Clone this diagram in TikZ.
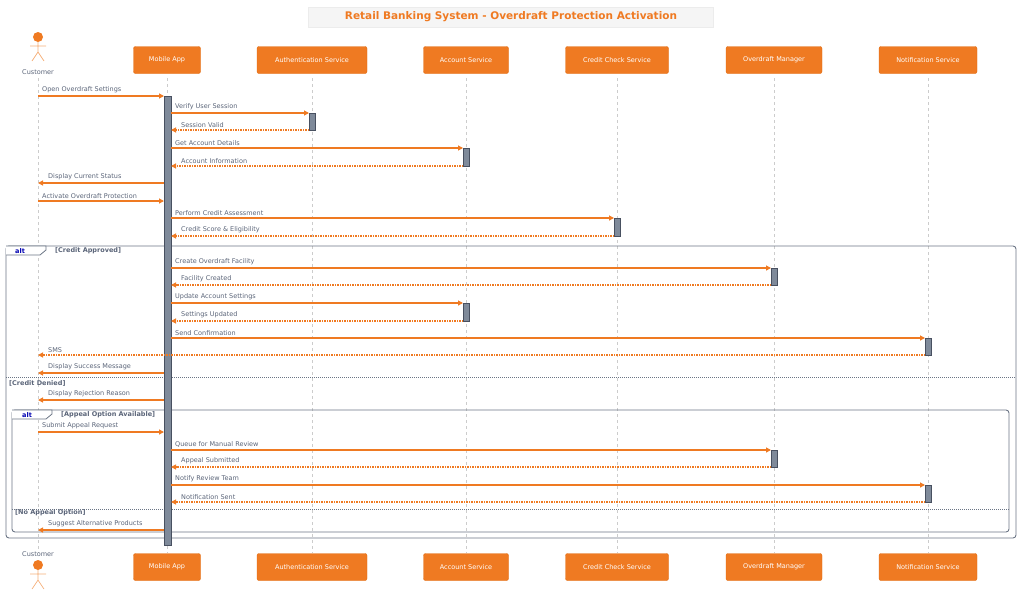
\documentclass[tikz,border=0pt]{standalone}
\usepackage{fontspec}
\setmainfont{DejaVu Sans}
\usetikzlibrary{arrows.meta}
\definecolor{org}{HTML}{EF7A22}
\definecolor{orgd}{HTML}{E06A10}
\definecolor{txt}{HTML}{5A6478}
\definecolor{bar}{HTML}{7F8A9A}
\definecolor{frm}{HTML}{6B7585}
\begin{document}
\begin{tikzpicture}[x=1pt,y=-1pt,
 part/.style={draw=orgd,fill=org,rounded corners=2pt,minimum height=27pt,text=white,font=\fontsize{6.5}{7}\selectfont,inner xsep=4pt},
 life/.style={draw=gray!40,dash pattern=on 3pt off 3pt,line width=0.5pt},
 act/.style={draw=txt!80!black,fill=bar,line width=0.5pt},
 msg/.style={draw=org,line width=1.1pt,-{Triangle[length=5pt,width=5pt]}},
 ret/.style={msg,dash pattern=on 1.5pt off 1pt},
 lbl/.style={text=txt,font=\fontsize{6.5}{7}\selectfont,anchor=south west,inner sep=1pt},
 frame/.style={draw=frm,line width=0.9pt,rounded corners=3pt},
 guard/.style={text=txt,font=\bfseries\fontsize{6.5}{7}\selectfont,anchor=west,inner sep=1pt},
 sep/.style={draw=frm,dash pattern=on 1pt off 1pt,line width=0.5pt},
 actor/.style={draw=org!60,line width=0.7pt}]
\useasboundingbox (0,0) rectangle (1024,600);
% title
\node[fill=gray!8,draw=gray!15,minimum width=405pt,minimum height=20pt,text=org,font=\bfseries\fontsize{10.5}{12}\selectfont] (title) at (511,17) {Retail Banking System - Overdraft Protection Activation};
% lifelines
\foreach \x in {38,167,312,466,617,774,928} \draw[life] (\x,78) -- (\x,553);
% participants
\foreach \n/\x/\w/\t in {m/167/67/Mobile App,a/312/110/Authentication Service,c/466/85/Account Service,k/617/103/Credit Check Service,o/774/96/Overdraft Manager,n/928/98/Notification Service}{
 \node[part,minimum width=\w pt] (\n top) at (\x,60) {\t};
 \node[part,minimum width=\w pt] (\n bot) at (\x,567) {\t};}
% actors
\fill[org] (38,37) circle (5pt);
\draw[actor] (38,42)--(38,52) (30,46)--(46,46) (38,52)--(32,61) (38,52)--(44,61);
\node[text=txt,font=\fontsize{6.5}{7}\selectfont] (cust) at (38,72) {Customer};
\node[text=txt,font=\fontsize{6.5}{7}\selectfont] (custb) at (38,554) {Customer};
\fill[org] (38,565) circle (5pt);
\draw[actor] (38,570)--(38,580) (30,574)--(46,574) (38,580)--(32,589) (38,580)--(44,589);
% frames
\draw[frame] (6,246) rectangle (1016,538);
\draw[frm,line width=0.8pt,fill=white] (6,246) -- (46,246) -- (46,250) -- (40,255) -- (6,255);
\node[text=blue!70!black,font=\bfseries\fontsize{6.5}{7}\selectfont] (alt1) at (20,251) {alt};
\node[guard] (g1) at (54,251) {[Credit Approved]};
\draw[sep] (6,377) -- (1016,377);
\node[guard] (g2) at (8,383) {[Credit Denied]};
\draw[frame] (12,410) rectangle (1009,532);
\draw[frm,line width=0.8pt,fill=white] (12,410) -- (52,410) -- (52,414) -- (46,419) -- (12,419);
\node[text=blue!70!black,font=\bfseries\fontsize{6.5}{7}\selectfont] (alt2) at (27,415) {alt};
\draw[sep] (12,509) -- (1009,509);
\node[guard] (g4) at (14,513) {[No Appeal Option]};
% activation bars
\draw[act] (164,96) rectangle (171,545);
\foreach \x/\a/\b in {312/113/130,466/148/166,617/218/236,774/268/285,466/303/321,928/338/355,774/450/467,928/485/502}
 \draw[act] (\x-3,\a) rectangle (\x+3,\b);
\node[guard] (g3) at (60,415) {[Appeal Option Available]};
% messages: style/from/to/y/label
\foreach \s/\f/\t/\y/\l in {
 msg/38/164/96/Open Overdraft Settings,
 msg/171/309/113/Verify User Session,
 ret/309/171/130/Session Valid,
 msg/171/463/148/Get Account Details,
 ret/463/171/166/Account Information,
 msg/164/38/183/Display Current Status,
 msg/38/164/201/Activate Overdraft Protection,
 msg/171/614/218/Perform Credit Assessment,
 ret/614/171/236/Credit Score \& Eligibility,
 msg/171/771/268/Create Overdraft Facility,
 ret/771/171/285/Facility Created,
 msg/171/463/303/Update Account Settings,
 ret/463/171/321/Settings Updated,
 msg/171/925/338/Send Confirmation,
 ret/925/38/355/SMS/Email Notification,
 msg/164/38/373/Display Success Message,
 msg/164/38/400/Display Rejection Reason,
 msg/38/164/432/Submit Appeal Request,
 msg/171/771/450/Queue for Manual Review,
 ret/771/171/467/Appeal Submitted,
 msg/171/925/485/Notify Review Team,
 ret/925/171/502/Notification Sent,
 msg/164/38/530/Suggest Alternative Products}{
 \coordinate (s) at (\f,\y); \coordinate (e) at (\t,\y);
 \draw[\s] (s) -- (e);
 \pgfmathparse{\f<\t ? \f+3 : \t+9}
 \node[lbl] at (\pgfmathresult,\y-1.5) {\l};}
\end{tikzpicture}
\end{document}
